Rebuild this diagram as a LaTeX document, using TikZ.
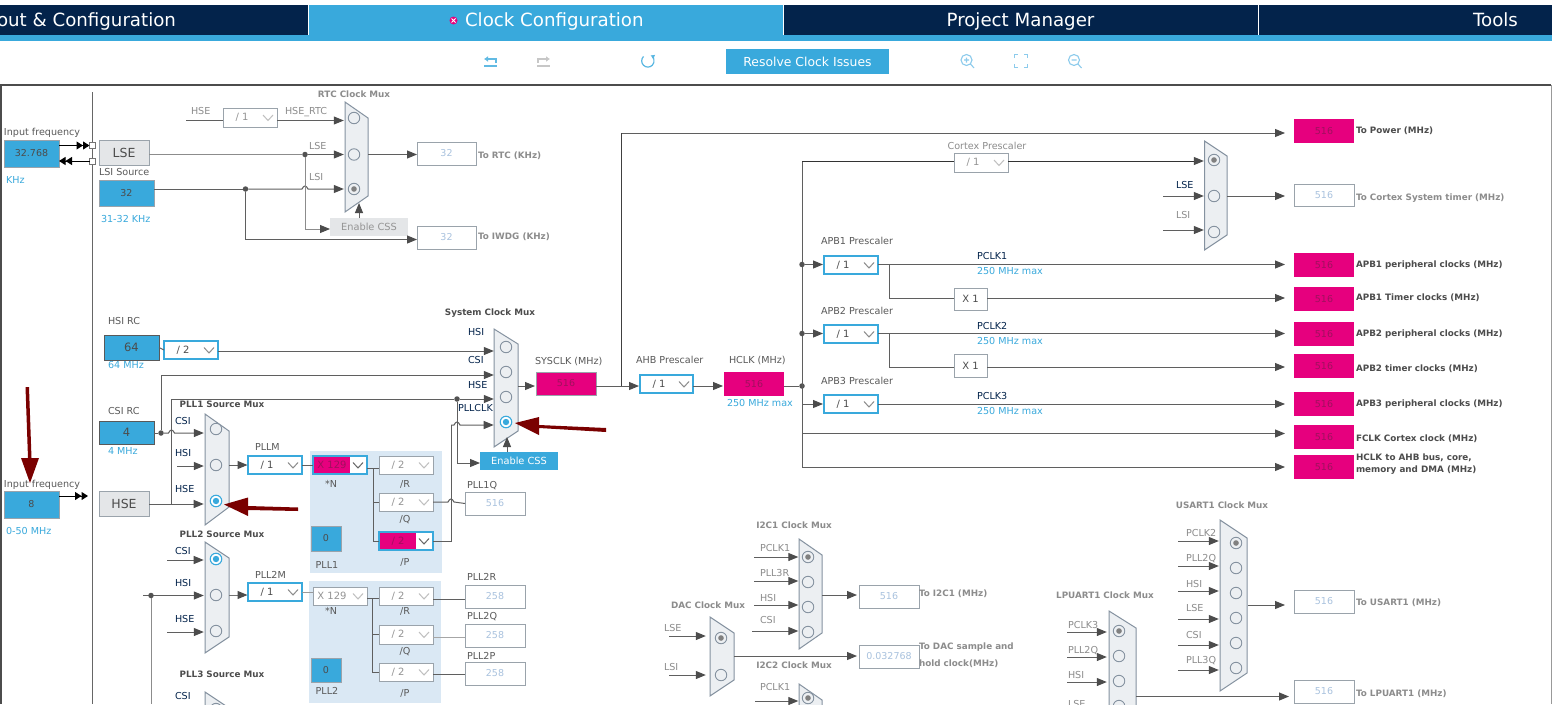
\documentclass[tikz,border=0pt]{standalone}
\usepackage{fontspec}
\setmainfont{DejaVu Sans}
\usetikzlibrary{arrows.meta,calc}
\definecolor{navy}{HTML}{03234B}
\definecolor{stblue}{HTML}{39A9DC}
\definecolor{stpink}{HTML}{E6007E}
\definecolor{pinktxt}{HTML}{A0105E}
\definecolor{panel}{HTML}{DAE8F4}
\definecolor{muxfill}{HTML}{ECEFF2}
\definecolor{muxline}{HTML}{8592A0}
\definecolor{boxline}{HTML}{9AA3AB}
\definecolor{wirec}{HTML}{5F5F5F}
\definecolor{lightnum}{HTML}{A9C2DE}
\definecolor{iconc}{HTML}{8CCBEC}
\definecolor{greybox}{HTML}{E4E6E8}
\definecolor{darkred}{HTML}{7A0000}
\newcommand\fsz[1]{\fontsize{#1}{#1}\selectfont}
\tikzset{
 wire/.style={draw=wirec,line width=1pt},
 arr/.style={wire,-{Triangle[length=10pt,width=8pt,color=black!70,fill=black!70]}},
 toR/.style={arr,shorten >=6pt},
 toB/.style={arr,shorten >=9pt},
 blk/.style={draw=black,line width=1pt,-{Triangle[length=6.5pt,width=8pt]Triangle[length=6.5pt,width=8pt]}},
 dotn/.style={circle,fill=black!68,inner sep=0,minimum size=5.5pt},
 muxs/.style={draw=muxline,fill=muxfill,line width=1pt},
 radio/.style={circle,draw=muxline,fill=muxfill,line width=.9pt,inner sep=0,minimum size=11.5pt},
 radiog/.style={radio,path picture={\fill[black!50] (path picture bounding box.center) circle (2.8pt);}},
 radiob/.style={radio,fill=white,draw=stblue,line width=1.1pt,path picture={\fill[stblue] (path picture bounding box.center) circle (3.2pt);}},
 base/.style={inner sep=0,outer sep=0,text=black!70},
 blue/.style={base,draw=boxline,fill=stblue,line width=1pt,font=\fsz{9.5}},
 blueL/.style={base,draw=black!65,fill=stblue,line width=1pt,font=\fsz{11.5}},
 grey/.style={base,draw=boxline,fill=greybox,line width=1pt,font=\fsz{12.5}},
 pink/.style={base,fill=stpink,text=pinktxt,font=\fsz{9.5}},
 outb/.style={base,draw=boxline,fill=white,line width=1pt,text=lightnum,font=\fsz{9.5}},
 plain/.style={base,draw=boxline,fill=white,line width=1pt,font=\fsz{10}},
 selb/.style={base,draw=stblue,fill=white,line width=2pt},
 selg/.style={base,draw=boxline,fill=white,line width=1pt},
 seltxt/.style={inner sep=0,outer sep=0,font=\fsz{10}},
 lb/.style={inner sep=0,outer sep=0,text=black!65,font=\fsz{9.6},text height=7.5pt,text depth=1.5pt},
 lbn/.style={lb,text=navy},
 lbg/.style={lb,text=black!45},
 lbb/.style={lb,text=black!70,font=\fsz{8.8}\bfseries},
 lbbg/.style={lb,text=black!45,font=\fsz{8.8}\bfseries},
 lbl/.style={lb,text=stblue},
 tab/.style={inner sep=0,outer sep=0,text=white,font=\fsz{18.2},text height=13pt,text depth=4pt},
 icon/.style={draw=iconc,line width=1.1pt},
 redarrow/.style={fill=darkred,draw=none},
}
\newcount\labn
\newcommand\lbl[4][lb]{\global\advance\labn by 1\relax
 \node[anchor=west,#1] (lab\the\labn) at (#2,#3) {#4};}
\newcommand\lbc[4][lb]{\global\advance\labn by 1\relax
 \node[anchor=center,#1] (lab\the\labn) at (#2,#3) {#4};}
% [style]{name}{x1}{y1}{x2}{y2}{text}
\newcommand\bx[7][blue]{%
 \node[#1,minimum width={(#5-#3)*1pt},minimum height={(#6-#4)*1pt}] (#2) at ({(#3+#5)/2},{(#4+#6)/2}) {#7};}
\newcommand\chev[4][black!45]{%
 \draw[#1,line width=1pt] ({#2-14},{(#3+#4)/2-2.5}) -- ({#2-9},{(#3+#4)/2+3}) -- ({#2-4},{(#3+#4)/2-2.5});}
\newcommand\selb[6]{\bx[selb]{#1}{#2}{#3}{#4}{#5}{}%
 \node[seltxt,text=black!70] (#1t) at ({#2+19},{(#3+#5)/2}) {#6};\chev{#4}{#3}{#5}}
\newcommand\selg[6]{\bx[selg]{#1}{#2}{#3}{#4}{#5}{}%
 \node[seltxt,text=black!42] (#1t) at ({#2+19},{(#3+#5)/2}) {#6};\chev[black!25]{#4}{#3}{#5}}
\newcommand\selp[6]{\bx[selb]{#1}{#2}{#3}{#4}{#5}{}%
 \fill[stpink] ({#2+1},{#3+1}) rectangle ({#4-17},{#5-1});
 \node[seltxt,text=pinktxt] (#1t) at ({#2+19},{(#3+#5)/2}) {#6};\chev[black!60]{#4}{#3}{#5}}
% {xl}{xr}{yt}{yrt}{yrb}{yb}
\newcommand\mux[6]{\path[muxs] (#1,#3) -- (#2,#4) -- (#2,#5) -- (#1,#6) -- cycle;}
% arrow from a free start into a radio of a mux
\newcommand\muxin[4][]{\coordinate (src#4) at (#2,#3);\draw[toR,#1] (src#4) -- (src#4 -| #4.west);}
\begin{document}
\begin{tikzpicture}[x=1pt,y=-1pt]
\useasboundingbox (0,0) rectangle (1552,704);
\clip (0,0) rectangle (1552,704);
\fill[white] (0,0) rectangle (1552,704);
% ---------- top bar
\fill[navy] (0,5) rectangle (1552,35);
\fill[stblue] (0,35) rectangle (1552,41);
\fill[stblue] (308,5) rectangle (783,35);
\draw[white,line width=.8pt] (308,5) -- (308,35);
\draw[white,line width=.8pt] (783.5,5) -- (783.5,35);
\draw[white,line width=.8pt] (1258.5,5) -- (1258.5,35);
\node[tab,anchor=east] (tab1) at (176,21.5) {out \& Configuration};
\node[circle,fill=stpink,inner sep=0,minimum size=8pt] (tabx) at (453.5,20.5) {};
\draw[white,line width=.9pt] (451.5,18.5) -- (455.5,22.5) (451.5,22.5) -- (455.5,18.5);
\node[tab,anchor=west] (tab2) at (465,21.5) {Clock Configuration};
\node[tab,anchor=center] (tab3) at (1020.5,21.5) {Project Manager};
\node[tab,anchor=center] (tab4) at (1495.5,21.5) {Tools};
% ---------- toolbar
\draw[stblue!80,line width=1.2pt] (484,66) -- (497,66);
\draw[stblue!80,line width=1.2pt,-{Latex[length=4pt,width=6pt]}] (496,63) -- (496,59) -- (484,59);
\draw[black!22,line width=1.2pt] (537,66) -- (550,66);
\draw[black!22,line width=1.2pt,-{Latex[length=4pt,width=6pt]}] (538,63) -- (538,59) -- (550,59);
\draw[stblue!85,line width=1.2pt,-{Latex[length=4pt,width=5pt]}] (643.5,56.5) arc[start angle=225,end angle=-65,radius=6.2];
\node[base,fill=stblue,text=white,font=\fsz{12.4},minimum width=163pt,minimum height=25pt] (resolve) at (807.5,61.5) {Resolve Clock Issues};
\draw[icon] (966.5,60) circle (5.5);\draw[icon] (970.5,64) -- (974,68) (964,60) -- (969,60) (966.5,57.5) -- (966.5,62.5);
\draw[icon] (1014.5,58) -- (1014.5,54.5) -- (1018,54.5) (1024,54.5) -- (1027.5,54.5) -- (1027.5,58) (1027.5,64) -- (1027.5,67.5) -- (1024,67.5) (1018,67.5) -- (1014.5,67.5) -- (1014.5,64);
\draw[icon] (1074,60) circle (5.5);\draw[icon] (1078,64) -- (1081.5,68) (1071.5,60) -- (1076.5,60);
% ---------- canvas frame
\draw[black!70,line width=2pt] (0.5,704) -- (0.5,85) -- (1551,85);
\draw[black!40,line width=1pt] (1551.5,85) -- (1551.5,704);
\coordinate (railtop) at (92.5,92);\coordinate (railbot) at (92.5,704);
\draw[black!60,line width=1pt] (railtop) -- (railbot);
% ---------- panels
\fill[panel] (310,451) rectangle (442,573);
\fill[panel] (309,581) rectangle (441,703);
% ---------- left inputs
\lbl{4}{132}{Input frequency}
\bx[blue]{inlse}{4}{140}{59}{167}{32.768}
\lbl[lbl]{6}{180}{KHz}
\bx[grey]{lse}{99}{140}{149}{165}{LSE}
\lbl{99}{172}{LSI Source}
\bx[blue]{lsi}{99}{180}{154}{206}{32}
\lbl[lbl]{101}{219}{31-32 KHz}
\node[base,draw=black!55,fill=white,minimum size=6pt,line width=.8pt] (p1) at (92.5,145.5) {};
\node[base,draw=black!55,fill=white,minimum size=6pt,line width=.8pt] (p2) at (92.5,161) {};
\draw[blk] (p1 -| inlse.east) -- (p1.west);
\draw[blk] (p2.west) -- (p2 -| inlse.east);
\lbl{4}{484}{Input frequency}
\bx[blue]{inhse}{4}{491}{59}{518}{8}
\lbl[lbl]{6}{531}{0-50 MHz}
\coordinate (hseend) at (88,496);
\draw[blk] (hseend -| inhse.east) -- (hseend);
\bx[grey]{hse}{99}{491}{149}{516}{HSE}
% ---------- RTC
\lbc[lbbg]{354}{94}{RTC Clock Mux}
\mux{345}{368}{102}{118}{196}{212}
\node[radio] (rtc1) at (354,118) {};
\node[radio] (rtc2) at (354,154.5) {};
\node[radiog] (rtc3) at (354,189) {};
\selg{rtcdiv}{223}{108}{277}{127}{/ 1}
\lbl[lbg]{191}{111}{HSE}
\lbl[lbg]{285}{111}{HSE\_RTC}
\lbl[lbg]{309}{146}{LSE}
\lbl[lbg]{309}{177}{LSI}
\coordinate (rtchse) at (186,120.5);
\draw[wire] (rtchse) -- (rtchse -| rtcdiv.west);
\draw[arr,shorten >=4pt] (rtchse -| rtcdiv.east) -- (rtchse -| rtc1.west);
\node[dotn] (dlse) at (305,154.5) {};
\node[dotn] (dlsi) at (245.5,189) {};
\bx[base,fill=greybox,text=black!42,font=\fsz{9.8}]{cssa}{330}{218}{408}{236}{Enable CSS}
\draw[wire,draw=black!45] (rtc2 -| lse.east) -- (dlse);
\draw[arr,shorten >=4pt] (dlse) -- (rtc2.west);
\draw[wire] (dlsi -| lsi.east) -- (dlsi);
\draw[arr,shorten >=4pt] (dlsi) -- (302,189) .. controls (304,185) and (306,185) .. (308,189) -- (rtc3.west);
\coordinate (cssain) at (cssa.west |- 0,229);
\draw[arr,draw=black!45] (dlse) -- (dlse |- cssain) -- (cssain);
\coordinate (cssaup) at (359,218);\coordinate (cssatop) at (359,203);
\draw[arr] (cssaup) -- (cssatop);
\bx[outb]{rtcout}{417}{142}{476}{165}{32}
\bx[outb]{iwdg}{417}{226}{476}{249}{32}
\draw[arr] (rtc2 -| 368,0) -- (rtc2 -| rtcout.west);
\coordinate (iwdgin) at (iwdg.west |- 0,239.5);
\draw[arr] (dlsi) -- (dlsi |- iwdgin) -- (iwdgin);
\lbl[lbbg]{478}{155}{To RTC (KHz)}
\lbl[lbbg]{478}{236}{To IWDG (KHz)}
% ---------- HSI / CSI
\lbl{108}{321}{HSI RC}
\bx[blueL]{hsi}{104}{335}{159}{360}{64}
\lbl[lbl]{108}{365}{64 MHz}
\selb{hsidiv}{164}{341}{218}{359}{/ 2}
\draw[wire] (hsi.east) -- (hsidiv.west);
\lbl{108}{411}{CSI RC}
\bx[blueL]{csi}{99}{421}{154}{444}{4}
\lbl[lbl]{108}{451}{4 MHz}
% ---------- PLL1 mux
\lbc[lbb]{222}{404}{PLL1 Source Mux}
\mux{205}{229}{414}{431}{507}{525}
\node[radio] (pa1) at (216,429) {};
\node[radio] (pa2) at (216,465) {};
\node[radiob] (pa3) at (216,501) {};
\lbl[lbn]{175}{421}{CSI}
\lbl[lbn]{175}{453}{HSI}
\lbl[lbn]{175}{489}{HSE}
\node[dotn] (dcsi) at (161,433) {};
\draw[wire] (csi.east |- dcsi) -- (dcsi);
\draw[toR] (dcsi) -- (168.5,433) .. controls (170.5,429) and (172.5,429) .. (174.5,433) -- (dcsi -| pa1.west);
\muxin{177}{466}{pa2}
\draw[toR] (hse.east |- 0,504) -- (pa3.west |- 0,504);
% ---------- System clock mux
\lbc[lbb]{490}{312}{System Clock Mux}
\mux{494}{518}{329}{344}{431}{447}
\node[radio] (sa1) at (506,347) {};
\node[radio] (sa2) at (506,372) {};
\node[radio] (sa3) at (506,397) {};
\node[radiob] (sa4) at (506,422) {};
\lbl[lbn]{468}{332}{HSI}
\lbl[lbn]{468}{360}{CSI}
\lbl[lbn]{468}{385}{HSE}
\lbl[lbn]{458}{408}{PLLCLK}
\draw[toR] (hsidiv.east |- 0,351) -- (sa1.west |- 0,351);
\coordinate (csiup) at (161,375);
\draw[toR] (dcsi) -- (csiup) -- (csiup -| sa2.west);
\coordinate (hseup) at (171.5,399);
\node[dotn] (dhse) at (457,399) {};
\draw[wire] (hseup |- 0,504) -- (hseup) -- (dhse);
\draw[toR] (dhse) -- (dhse -| sa3.west);
\bx[base,fill=stblue,text=white,font=\fsz{9.8}]{cssb}{480}{452}{558}{470}{Enable CSS}
\coordinate (cssbin) at (cssb.west |- 0,463);
\draw[arr] (dhse) -- (dhse |- cssbin) -- (cssbin);
\coordinate (cssbup) at (507,452);\coordinate (cssbtop) at (507,437);
\draw[arr] (cssbup) -- (cssbtop);
% ---------- PLL1 block
\lbl{255}{447}{PLLM}
\selb{pllm}{248}{456}{302}{474}{/ 1}
\draw[arr,shorten >=.5pt] (pa2 -| 229,0) -- (pa2 -| pllm.west);
\selp{pllnA}{313}{456}{367}{474}{X 129}
\draw[wire] (pllm.east) -- (pllnA.west);
\lbc{331}{484}{*N}
\selg{plrA}{379}{456}{433}{474}{/ 2}
\lbc{405}{484}{/R}
\selg{plqA}{379}{493}{433}{511}{/ 2}
\lbc{405}{519}{/Q}
\selp{plpA}{379}{532}{433}{550}{/ 2}
\lbc{405}{562}{/P}
\bx[blue,font=\fsz{9.5}]{pllA}{311}{526}{341}{551}{0}
\lbc{327}{565}{PLL1}
\coordinate (busA) at (373,468);
\draw[wire] (pllnA.east |- busA) -- (busA -| plrA.west);
\draw[wire] (busA) -- (busA |- plpA.west) -- (plpA.west);
\draw[wire] (busA |- plqA.west) -- (plqA.west);
\lbl{467}{485}{PLL1Q}
\bx[outb]{qA}{465}{492}{525}{515}{516}
\draw[wire] (plqA.east) -- (448,502) .. controls (450,498) and (452,498) .. (454,502) -- (qA.west);
\coordinate (pclkup) at (451,425);
\draw[wire] (plpA.east) -- (plpA.east -| pclkup) -- (pclkup);
\draw[toR] (pclkup) -- (454,425) .. controls (456,421) and (458,421) .. (460,425) -- (pclkup -| sa4.west);
% ---------- PLL2
\lbc[lbb]{222}{534}{PLL2 Source Mux}
\mux{205}{229}{542}{558}{637}{653}
\node[radiob] (pb1) at (216,559) {};
\node[radio] (pb2) at (216,595) {};
\node[radio] (pb3) at (216,631) {};
\lbl[lbn]{175}{551}{CSI}
\lbl[lbn]{175}{583}{HSI}
\lbl[lbn]{175}{619}{HSE}
\muxin{167}{560}{pb1}
\muxin{143}{595.5}{pb2}
\muxin{167}{632}{pb3}
\node[dotn] (dpb) at (151,595.5) {};
\coordinate (dpbbot) at (151,704);
\draw[wire,draw=black!45] (dpb) -- (dpbbot);
\lbl{255}{575}{PLL2M}
\selb{pllmB}{248}{583}{302}{601}{/ 1}
\draw[arr,shorten >=.5pt,draw=black!55] (pb2 -| 229,0) -- (pb2 -| pllmB.west);
\selg{pllnB}{313}{587}{367}{605}{X 129}
\draw[wire,draw=black!40] (pllmB.east) -- (pllnB.west |- pllmB.east);
\lbc{331}{611}{*N}
\selg{plrB}{379}{587}{433}{605}{/ 2}
\lbc{405}{611}{/R}
\selg{plqB}{379}{625}{433}{644}{/ 2}
\lbc{405}{651}{/Q}
\selg{plpB}{379}{663}{433}{681}{/ 2}
\lbc{405}{693}{/P}
\bx[blue,font=\fsz{9.5}]{pllB}{311}{658}{341}{682}{0}
\lbc{327}{691}{PLL2}
\coordinate (busB) at (372,598.5);
\draw[wire] (pllnB.east |- busB) -- (busB -| plrB.west);
\draw[wire] (busB) -- (busB |- plpB.west) -- (plpB.west);
\draw[wire] (busB |- plqB.west) -- (plqB.west);
\lbl{467}{577}{PLL2R}
\bx[outb]{rB}{465}{585}{525}{608}{258}
\lbl{467}{616}{PLL2Q}
\bx[outb]{qB}{465}{624}{525}{647}{258}
\lbl{467}{656}{PLL2P}
\bx[outb]{pB}{465}{662}{525}{685}{258}
\draw[wire] (plrB.east |- 0,599.5) -- (rB.west |- 0,599.5);
\draw[wire,draw=black!35] (plqB.east |- 0,637) -- (qB.west |- 0,637);
\draw[wire] (plpB.east |- 0,674) -- (pB.west |- 0,674);
% ---------- PLL3 (cut off)
\lbc[lbb]{222}{674}{PLL3 Source Mux}
\mux{205}{229}{692}{708}{790}{806}
\lbl[lbn]{175}{696}{CSI}
\node[radio] (pc1) at (216,709) {};
% ---------- SYSCLK / AHB / HCLK
\lbl{535}{361}{SYSCLK (MHz)}
\bx[pink,draw=boxline,line width=1pt]{sysclk}{536}{372}{596}{395}{516}
\draw[arr,shorten >=1pt] (518,386) coordinate (sysmuxout) -- (sysmuxout -| sysclk.west);
\lbl{636}{360}{AHB Prescaler}
\selb{ahb}{640}{375}{693}{393}{/ 1}
\draw[arr,shorten >=1pt] (sysclk.east |- 0,386) -- (ahb.west |- 0,386);
\lbl{729}{360}{HCLK (MHz)}
\bx[pink]{hclk}{724}{372}{784}{396}{516}
\lbl[lbl]{727}{403}{250 MHz max}
\draw[arr,shorten >=1pt] (ahb.east |- 0,386) -- (hclk.west |- 0,386);
\node[dotn] (dh) at (802,386) {};
\draw[wire] (hclk.east |- dh) -- (dh);
\bx[pink]{tpow}{1294}{119}{1354}{143}{516}
\lbl[lbb]{1356}{130}{To Power (MHz)}
\coordinate (powup) at (621.5,133);
\draw[wire,draw=black!75] (powup |- 0,386) -- (powup);
\draw[toB] (powup) -- (powup -| tpow.west);
% ---------- bus
\coordinate (bustop) at (802,161);\coordinate (busbot) at (802,467);
\draw[wire] (bustop) -- (busbot);
% ---------- Cortex
\lbc[lbg]{987}{146}{Cortex Prescaler}
\selg{cdiv}{954}{153}{1008}{172}{/ 1}
\mux{1204.5}{1227}{141}{156}{235}{250}
\node[radiog] (cm1) at (1214,160) {};
\node[radio] (cm2) at (1214,196) {};
\node[radio] (cm3) at (1214,232) {};
\lbl[lbn]{1176}{185}{LSE}
\lbl[lbg]{1176}{215}{LSI}
\draw[wire,draw=black!80] (bustop) -- (bustop -| cdiv.west);
\draw[arr,shorten >=4pt,draw=black!80] (bustop -| cdiv.east) -- (bustop -| cm1.west);
\muxin[shorten >=4pt]{1163}{196}{cm2}
\muxin[shorten >=4pt]{1163}{230}{cm3}
\bx[outb]{ctim}{1294}{184}{1354}{206}{516}
\lbl[lbbg]{1356}{197}{To Cortex System timer (MHz)}
\draw[toB] (1227,196) coordinate (cmout) -- (cmout -| ctim.west);
% ---------- APB
\lbl{821}{241}{APB1 Prescaler}
\selb{apa}{824}{256}{878}{274}{/ 1}
\node[dotn] (da) at (802,264.5) {};
\draw[arr,shorten >=1pt] (da) -- (da -| apa.west);
\lbl[lbn]{977}{256}{PCLK1}
\lbl[lbl]{977}{271}{250 MHz max}
\bx[pink]{tapa}{1294}{253}{1354}{277}{516}
\lbl[lbb]{1356}{264}{APB1 peripheral clocks (MHz)}
\draw[toB] (da -| apa.east) -- (da -| tapa.west);
\bx[plain]{xa}{954}{288}{987}{310}{X 1}
\bx[pink]{ttima}{1294}{287}{1354}{311}{516}
\lbl[lbb]{1356}{297}{APB1 Timer clocks (MHz)}
\coordinate (bra) at (889,298);
\draw[wire] (bra |- da) -- (bra) -- (bra -| xa.west);
\draw[toB] (bra -| xa.east) -- (bra -| ttima.west);
\lbl{821}{311}{APB2 Prescaler}
\selb{apb}{824}{325}{878}{343}{/ 1}
\node[dotn] (db) at (802,333.5) {};
\draw[arr,shorten >=1pt] (db) -- (db -| apb.west);
\lbl[lbn]{977}{326}{PCLK2}
\lbl[lbl]{977}{341}{250 MHz max}
\bx[pink]{tapb}{1294}{322}{1354}{346}{516}
\lbl[lbb]{1356}{333}{APB2 peripheral clocks (MHz)}
\draw[toB] (db -| apb.east) -- (db -| tapb.west);
\bx[plain]{xb}{954}{354}{987}{377}{X 1}
\bx[pink]{ttimb}{1294}{354}{1354}{378}{516}
\lbl[lbb]{1356}{368}{APB2 timer clocks (MHz)}
\coordinate (brb) at (889,367);
\draw[wire] (brb |- db) -- (brb) -- (brb -| xb.west);
\draw[toB] (brb -| xb.east) -- (brb -| ttimb.west);
\lbl{821}{381}{APB3 Prescaler}
\selb{apc}{824}{395}{878}{413}{/ 1}
\coordinate (dc) at (802,404);
\draw[arr,shorten >=1pt] (dc) -- (dc -| apc.west);
\lbl[lbn]{977}{396}{PCLK3}
\lbl[lbl]{977}{411}{250 MHz max}
\bx[pink]{tapc}{1294}{392}{1354}{416}{516}
\lbl[lbb]{1356}{403}{APB3 peripheral clocks (MHz)}
\draw[toB] (dc -| apc.east) -- (dc -| tapc.west);
\bx[pink]{tfclk}{1294}{425}{1354}{449}{516}
\lbl[lbb]{1356}{438}{FCLK Cortex clock (MHz)}
\coordinate (fclk) at (802,433.5);
\draw[toB] (fclk) -- (fclk -| tfclk.west);
\bx[pink]{tahb}{1294}{455}{1354}{479}{516}
\lbl[lbb]{1356}{457}{HCLK to AHB bus, core,}
\lbl[lbb]{1356}{469}{memory and DMA (MHz)}
\draw[toB] (busbot) -- (busbot -| tahb.west);
% ---------- I2C1
\lbc[lbbg]{794}{525}{I2C1 Clock Mux}
\mux{799}{822}{539}{555}{633}{649}
\node[radiog] (ia1) at (808,557) {};
\node[radio] (ia2) at (808,582) {};
\node[radio] (ia3) at (808,607) {};
\node[radio] (ia4) at (808,632) {};
\lbl[lbg]{760}{548}{PCLK1}
\lbl[lbg]{760}{573}{PLL3R}
\lbl[lbg]{760}{598}{HSI}
\lbl[lbg]{760}{620}{CSI}
\muxin[shorten >=3.5pt]{754}{557}{ia1}
\muxin[shorten >=3.5pt]{754}{581}{ia2}
\muxin[shorten >=3.5pt]{754}{605}{ia3}
\muxin[shorten >=3.5pt]{752}{631}{ia4}
\bx[outb]{toiA}{859}{585}{919}{608}{516}
\lbl[lbbg]{919}{593}{To I2C1 (MHz)}
\draw[arr,shorten >=2pt] (822,595) coordinate (iaout) -- (iaout -| toiA.west);
% ---------- DAC
\lbc[lbbg]{708}{605}{DAC Clock Mux}
\mux{710}{734}{617}{633}{680}{696}
\node[radiog] (da1) at (721,638) {};
\node[radio] (da2) at (721,675) {};
\lbl[lbg]{664}{628}{LSE}
\lbl[lbg]{664}{667}{LSI}
\muxin[shorten >=9pt]{669}{636}{da1}
\muxin[shorten >=9pt]{669}{675}{da2}
\bx[outb]{todac}{859}{645}{919}{668}{0.032768}
\lbl[lbbg]{919}{646}{To DAC sample and}
\lbl[lbbg]{919}{663}{hold clock(MHz)}
\draw[arr,shorten >=2pt] (734,656) coordinate (daout) -- (daout -| todac.west);
% ---------- I2C2
\lbc[lbbg]{794}{665}{I2C2 Clock Mux}
\mux{799}{822}{684}{700}{790}{806}
\node[radiog] (ib1) at (808,698) {};
\lbl[lbg]{760}{687}{PCLK1}
\muxin[shorten >=3.5pt]{755}{701}{ib1}
% ---------- USART1
\lbc[lbbg]{1222}{505}{USART1 Clock Mux}
\mux{1220}{1247}{520}{538}{673}{691}
\node[radiog] (ua1) at (1236,543) {};
\node[radio] (ua2) at (1236,568) {};
\node[radio] (ua3) at (1236,593) {};
\node[radio] (ua4) at (1236,618) {};
\node[radio] (ua5) at (1236,643) {};
\node[radio] (ua6) at (1236,668) {};
\lbl[lbg]{1186}{533}{PCLK2}
\lbl[lbg]{1186}{558}{PLL2Q}
\lbl[lbg]{1186}{584}{HSI}
\lbl[lbg]{1186}{608}{LSE}
\lbl[lbg]{1186}{635}{CSI}
\lbl[lbg]{1186}{660}{PLL3Q}
\muxin[shorten >=11pt]{1178}{541}{ua1}
\muxin[shorten >=11pt]{1178}{566}{ua2}
\muxin[shorten >=11pt]{1178}{591}{ua3}
\muxin[shorten >=11pt]{1178}{619}{ua4}
\muxin[shorten >=11pt]{1178}{645}{ua5}
\muxin[shorten >=11pt]{1178}{670}{ua6}
\bx[outb]{touart}{1294}{590}{1354}{613}{516}
\lbl[lbbg]{1356}{602}{To USART1 (MHz)}
\draw[arr,shorten >=9pt] (1248,605) coordinate (uaout) -- (uaout -| touart.west);
% ---------- LPUART1
\lbc[lbbg]{1105}{595}{LPUART1 Clock Mux}
\mux{1109}{1136}{611}{628}{800}{820}
\node[radiog] (la1) at (1119,631) {};
\node[radio] (la2) at (1119,656) {};
\node[radio] (la3) at (1119,681) {};
\node[radio] (la4) at (1119,706) {};
\lbl[lbg]{1068}{625}{PCLK3}
\lbl[lbg]{1068}{650}{PLL2Q}
\lbl[lbg]{1068}{675}{HSI}
\lbl[lbg]{1068}{704.5}{LSE}
\muxin[shorten >=6pt]{1067}{632}{la1}
\muxin[shorten >=6pt]{1067}{657}{la2}
\muxin[shorten >=6pt]{1067}{682}{la3}
\bx[outb]{tolp}{1294}{680}{1354}{703}{516}
\lbl[lbbg]{1356}{693}{To LPUART1 (MHz)}
\draw[arr,shorten >=5pt] (1136,696.5) coordinate (laout) -- (laout -| tolp.west);
% ---------- red annotation arrows
\path[redarrow] (25.5,387) -- (29,387) -- (31.5,458) -- (39,458) -- (30,483) -- (21,458) -- (28,458) -- cycle;
\path[redarrow] (298,507.5) -- (298,511) -- (248,510) -- (248,516) -- (224,504.5) -- (248,497.5) -- (248,506) -- cycle;
\path[redarrow] (606,428) -- (606,432) -- (539,428) -- (539,435) -- (515,423) -- (539,417) -- (539,425) -- cycle;
\end{tikzpicture}
\end{document}
